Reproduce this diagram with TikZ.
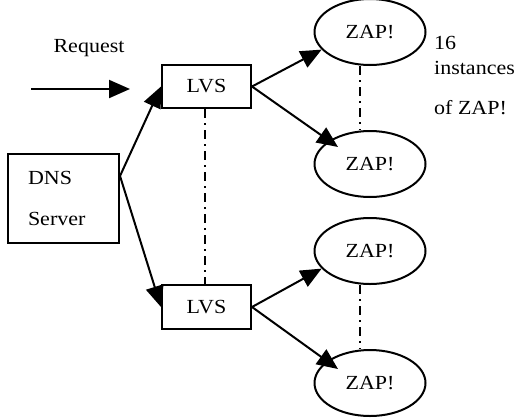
\documentclass[tikz,border=0pt]{standalone}
\usepackage{fontspec}
\setmainfont{Liberation Serif}[FakeStretch=1.1]
\usetikzlibrary{positioning, arrows.meta, shapes.geometric}
\tikzset{
arr/.style={-{Triangle[length=21pt,width=18pt]}, line width=2pt}, % big filled arrow heads
box/.style={draw, rectangle, line width=2pt}, % DNS and LVS boxes
zap/.style={draw, ellipse, line width=2pt, minimum width=111pt, minimum height=66pt, inner sep=0pt}, % ZAP! servers
dashdot/.style={line width=2pt, dash pattern=on 9pt off 5pt on 2pt off 5pt}, % the "more of these" lines
}

\begin{document}
\begin{tikzpicture}[x=1pt, y=-1pt, font=\fontsize{20}{25}\selectfont]
\useasboundingbox (0,0) rectangle (526,418);
\node[box, minimum width=111pt, minimum height=89pt, text width=71pt, inner xsep=20pt, align=left] (dns) at (63.5,198) {DNS\\[16pt]Server};
\node[box, minimum width=89pt, minimum height=43pt] (lvs1) at (206.5,86.5) {LVS};
\node[box, minimum width=89pt, minimum height=44pt] (lvs2) at (206.5,307) {LVS};

\node[zap] (zap1) at (370,32) {ZAP!};
\node[zap] (zap2) at (370,164) {ZAP!};
\node[zap] (zap3) at (370,251) {ZAP!};
\node[zap] (zap4) at (370,383) {ZAP!};

\node (req) at (89,48) {Request};
\coordinate (in) at (31,89);
\coordinate (out) at (130,89);
\node[align=left, anchor=north west, inner sep=0pt] (count) at (434,36) {16\\instances\\[15pt]of ZAP!};

\draw[arr] (in) -- (out);
\draw[arr] ([yshift=22pt]dns.east) -- (lvs1.west);
\draw[arr] ([yshift=22pt]dns.east) -- (lvs2.west);
\draw[arr] (lvs1.east) -- (zap1.200);
\draw[arr] (lvs1.east) -- ([xshift=-32pt,yshift=17pt]zap2.center);
\draw[arr] (lvs2.east) -- (zap3.200);
\draw[arr] (lvs2.east) -- ([xshift=-32pt,yshift=14pt]zap4.center);

\draw[dashdot] ([xshift=-2pt]lvs1.south) -- ([xshift=-2pt]lvs2.north);
\draw[dashdot] ([xshift=-10pt]zap1.south) -- ([xshift=-10pt]zap2.north);
\draw[dashdot] ([xshift=-10pt]zap3.south) -- ([xshift=-10pt]zap4.north);
\end{tikzpicture}
\end{document}
